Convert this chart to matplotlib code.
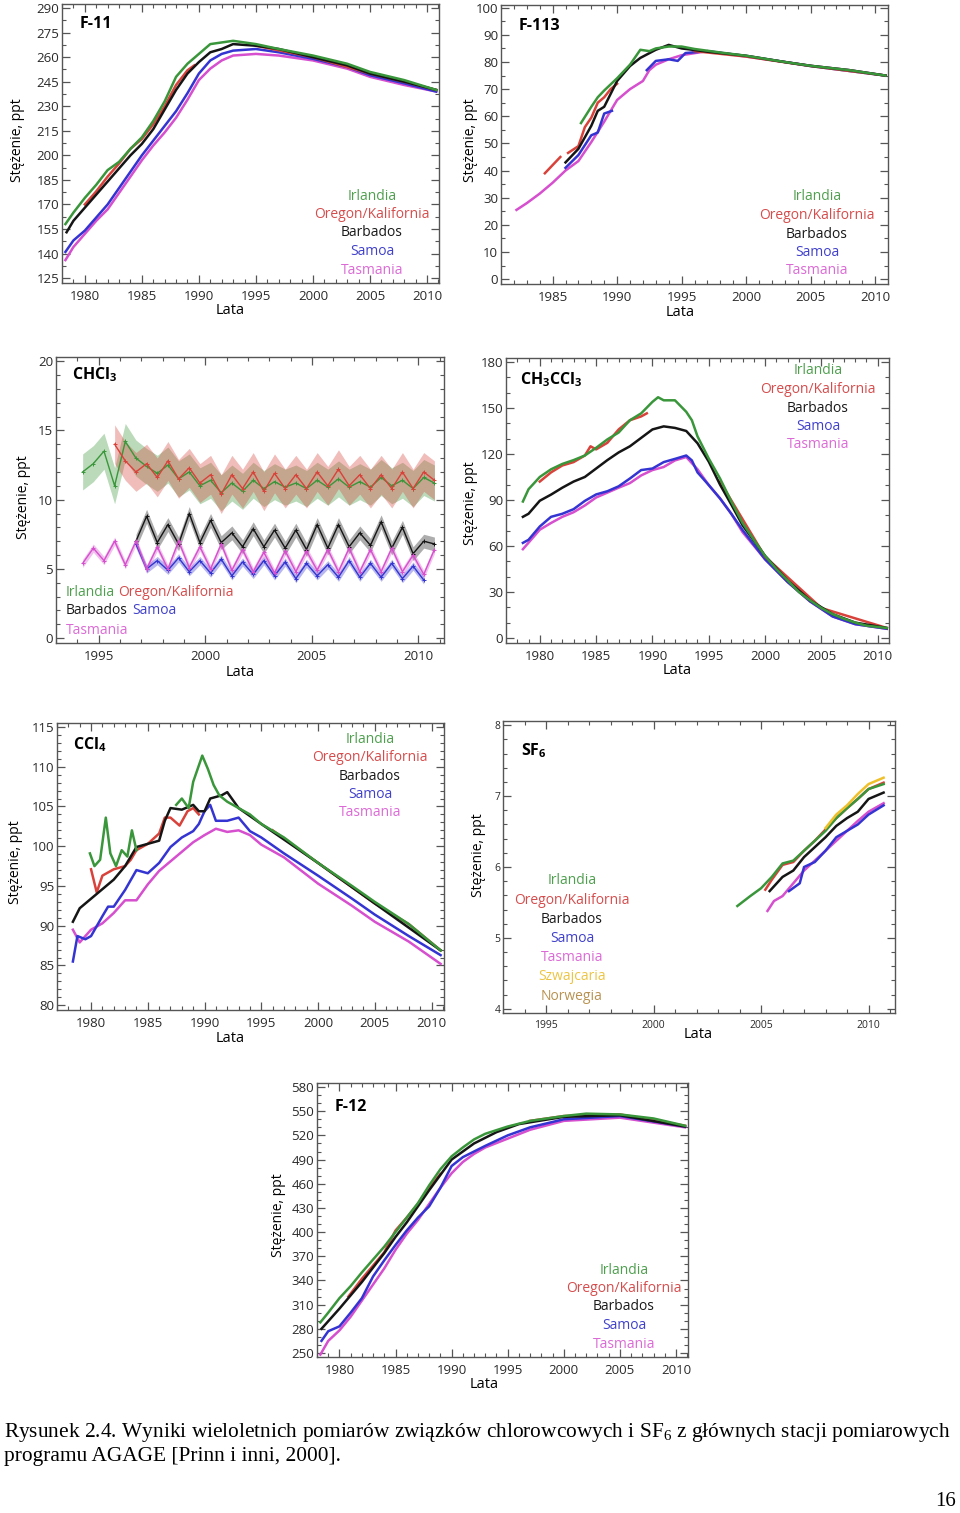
import numpy as np
import matplotlib
matplotlib.use("Agg")
import matplotlib.pyplot as plt

plt.rcParams['font.family'] = ['Open Sans', 'DejaVu Sans']
plt.rcParams['mathtext.default'] = 'regular'

nan = np.nan

# colours of the AGAGE stations
IRL, ORE, BAR, SAM, TAS, SZW, NOR = '#3a963a', '#d8423a', '#151515', '#3434d2', '#d64fce', '#efc02a', '#b8924a'
LEG = {'Irlandia': '#4f9f4f', 'Oregon/Kalifornia': '#d64c4c', 'Barbados': '#1a1a1a',
       'Samoa': '#4040cc', 'Tasmania': '#dc6ad6', 'Szwajcaria': '#ecc444', 'Norwegia': '#b89250'}

# ---- F-11 ----
f11_irl_yr = [1978.3, 1979, 1980, 1981, 1982, 1983, 1984, 1985, 1986, 1987, 1988, 1989, 1990, 1991, 1992, 1993, 1995, 1997, 2000, 2003, 2005, 2008, 2010.8]
f11_irl = [158, 165, 174, 182, 191, 196, 204, 211, 221, 233, 248, 256, 262, 268, 269, 270, 268, 265, 261, 256, 251, 246, 240]
f11_ore_yr = [1980, 1981, 1982, 1983, 1984, 1985, 1986, 1987, 1988, 1989, 1989.6, nan, 1995, 2000, 2005, 2008, 2010.8]
f11_ore = [170, 178, 187, 195, 204, 210, 219, 230, 243, 252, 255, nan, 267, 260, 250, 245, 240]
f11_bar_yr = [1978.4, 1979, 1980, 1981, 1982, 1983, 1984, 1985, 1986, 1987, 1988, 1989, 1990, 1991, 1992, 1993, 1995, 1997, 2000, 2003, 2005, 2008, 2010.8]
f11_bar = [153, 160, 168, 176, 184, 192, 200, 207, 216, 228, 240, 250, 257, 263, 265, 268, 267, 265, 260, 255, 250, 245, 240]
f11_sam_yr = [1978.3, 1979, 1980, 1981, 1982, 1983, 1984, 1985, 1986, 1987, 1988, 1989, 1990, 1991, 1992, 1993, 1995, 1997, 2000, 2003, 2005, 2008, 2010.8]
f11_sam = [141, 148, 154, 162, 170, 180, 190, 200, 209, 218, 227, 238, 250, 258, 262, 264, 265, 263, 259, 254, 249, 244, 239]
f11_tas_yr = f11_sam_yr
f11_tas = [136, 144, 152, 160, 167, 177, 187, 197, 206, 214, 223, 234, 246, 253, 258, 261, 262, 261, 258, 253, 248, 243, 239]

# ---- F-113 ----
f113_irl_yr = [1987.2, 1988, 1988.5, 1989, 1990, 1991, 1991.8, 1992.5, 1993, 1994, 1995, 1996, 1998, 2000, 2003, 2005, 2008, 2010.8]
f113_irl = [57.5, 63.5, 67, 69.5, 74, 79, 84.5, 84, 85, 85.7, 85.7, 84.8, 83.5, 82.3, 80, 78.6, 77, 75]
f113_ore_yr = [1984.4, 1985, 1985.6, nan, 1986.2, 1987, 1987.5, 1988, 1988.5, 1989, 1989.5, 1990, nan, 1996, 2000, 2005, 2010.8]
f113_ore = [39, 42, 45, nan, 46.5, 49, 56, 59.5, 65, 67, 70, 72, nan, 84, 82, 78.5, 75]
f113_bar_yr = [1986, 1987, 1988, 1988.5, 1989, 1990, 1991, 1991.8, 1993, 1994, 1995, 1997, 2000, 2003, 2005, 2008, 2010.8]
f113_bar = [43, 48, 56.5, 62, 63.5, 73, 78.5, 81.5, 84.5, 86.3, 85, 83.8, 82.3, 80, 78.6, 77, 75]
f113_sam_yr = [1986, 1987, 1988, 1988.5, 1989, 1989.6, nan, 1992.3, 1993, 1994, 1994.7, 1995.3, 1997, 2000, 2005, 2010.8]
f113_sam = [41, 45.7, 53, 54, 61, 62, nan, 77, 80.4, 81, 80.4, 83.3, 84, 82.2, 78.5, 75]
f113_tas_yr = [1982.2, 1983, 1984, 1985, 1986, 1987, 1988, 1989, 1990, 1991, 1992, 1992.5, 1993, 1994, 1995, 1997, 2000, 2003, 2005, 2008, 2010.8]
f113_tas = [25.5, 28, 31.5, 35.5, 40, 43.5, 50.5, 58, 66, 70, 73, 77, 79, 81, 82.5, 84, 82, 80, 78.6, 77, 75]

# ---- CHCl3 (half-yearly, winter / summer) ----
chcl3_irl_yr = np.arange(1994.25, 2010.8, 0.5)
chcl3_irl = [12.0, 12.6, 13.5, 11.0, 14.2, 13.0, 12.4, 11.9, 12.5, 11.5, 12.0, 11.0, 11.4, 10.5, 11.2, 10.6, 11.4,
             10.8, 11.3, 10.9, 11.2, 10.8, 11.4, 10.9, 11.5, 10.9, 11.3, 10.9, 11.6, 11.0, 11.4, 10.8, 11.6, 11.2]
chcl3_ore_yr = np.arange(1995.75, 2010.8, 0.5)
chcl3_ore = [14.0, 12.8, 12.0, 12.6, 11.6, 12.8, 11.5, 12.3, 11.2, 11.8, 10.4, 11.8, 10.8, 12.0, 10.6, 11.9,
             10.8, 11.8, 10.8, 12.0, 11.0, 12.2, 11.0, 11.8, 10.8, 11.8, 10.8, 12.0, 10.8, 12.0, 11.4]
chcl3_bar_yr = np.arange(1996.75, 2010.8, 0.5)
chcl3_bar = [7.0, 8.8, 6.9, 8.2, 6.8, 9.0, 6.9, 8.5, 6.9, 7.6, 6.6, 7.9, 6.6, 7.8, 6.5, 7.8, 6.4, 8.2, 6.5,
             8.2, 6.6, 7.6, 6.7, 8.4, 6.5, 8.0, 6.1, 7.0, 6.8]
chcl3_sam_yr = np.arange(1996.75, 2010.3, 0.5)
chcl3_sam = [6.8, 5.0, 5.6, 4.9, 5.8, 4.8, 5.6, 4.7, 5.7, 4.5, 5.5, 4.6, 5.6, 4.5, 5.5, 4.3, 5.4, 4.5, 5.3,
             4.4, 5.6, 4.4, 5.4, 4.4, 5.4, 4.3, 5.2, 4.2]
chcl3_tas_yr = np.arange(1994.25, 2010.8, 0.5)
chcl3_tas = [5.4, 6.5, 5.6, 7.0, 5.3, 7.0, 5.0, 6.6, 5.0, 7.0, 5.1, 6.6, 5.0, 6.8, 4.9, 6.4, 4.8, 6.2, 4.7,
             6.3, 4.8, 6.3, 4.9, 6.4, 4.8, 6.5, 4.8, 6.4, 4.8, 6.5, 4.8, 6.0, 4.6, 6.4]
chcl3_spread = {'irl': 1.3, 'ore': 1.4, 'bar': 0.5, 'sam': 0.3, 'tas': 0.3}

# ---- CH3CCl3 ----
ch3_irl_yr = [1978.5, 1979, 1980, 1981, 1982, 1983, 1984, 1985, 1986, 1987, 1988, 1989, 1990, 1990.5, 1991, 1992, 1993, 1993.5,
              1994, 1995, 1996, 1997, 1998, 1999, 2000, 2001, 2002, 2003, 2004, 2005, 2006, 2007, 2008, 2009, 2010.8]
ch3_irl = [89, 97, 105, 110, 113.5, 116, 119, 124, 129.5, 134, 142, 146.5, 154, 157, 155, 155, 147.5, 142,
           131.5, 117, 104, 89, 75, 64, 53.5, 45, 37.5, 30, 24.5, 19.5, 15.5, 12.5, 10, 8, 6.5]
ch3_ore_yr = [1980, 1981, 1982, 1983, 1984, 1984.5, 1985, 1986, 1987, 1988, 1989, 1989.5, nan, 1996, 2000, 2005, 2010.8]
ch3_ore = [102, 108, 112.5, 114.7, 119, 125, 123, 127.3, 136, 142, 144.5, 146.5, nan, 102, 53, 19.5, 6.5]
ch3_bar_yr = [1978.5, 1979, 1980, 1981, 1982, 1983, 1984, 1985, 1986, 1987, 1988, 1989, 1990, 1991, 1992, 1993, 1994,
              1995, 1996, 1997, 1998, 2000, 2002, 2004, 2006, 2008, 2010.8]
ch3_bar = [79, 81, 89.5, 93.5, 98, 102, 105, 110.5, 116, 121, 125, 130.5, 136, 138, 137, 135, 127,
           115, 100, 87, 73.5, 53.5, 37.5, 24.5, 15.5, 10, 6.5]
ch3_sam_yr = [1978.5, 1979, 1980, 1981, 1982, 1983, 1984, 1985, 1986, 1987, 1988, 1989, 1990, 1991, 1992, 1993, 1993.5,
              1994, 1995, 1996, 1997, 1998, 2000, 2002, 2004, 2006, 2008, 2010.8]
ch3_sam = [62, 64, 72.7, 79, 81, 84, 89.4, 93.6, 95.7, 98.9, 104, 109.5, 110.5, 114.7, 116.8, 119, 115.8,
           108, 99.7, 91, 81, 70.4, 51.3, 36.5, 23.8, 14, 9, 6]
ch3_tas_yr = [1978.5, 1980, 1981, 1982, 1983, 1984, 1985, 1986, 1987, 1988, 1989, 1990, 1991, 1992, 1993, 1994,
              1995, 1996, 1997, 1998, 2000, 2002, 2004, 2006, 2008, 2010.8]
ch3_tas = [57.9, 70.6, 75, 79, 82, 86.4, 91.6, 94.8, 98, 101, 106, 109.5, 111.5, 115.8, 118, 110,
           99.7, 91, 81, 69, 51.3, 36.5, 23.8, 14, 9, 6]

# ---- CCl4 ----
ccl4_irl_yr = [1979.9, 1980.3, 1980.8, 1981.3, 1981.7, 1982.2, 1982.7, 1983.2, 1983.6, 1984.0, nan, 1987.5, 1988, 1988.6,
               1989, 1989.8, 1990.3, 1990.8, 1991.3, 1992, 1993, 1994, 1995, 1997, 2000, 2003, 2005, 2008, 2010.8]
ccl4_irl = [99.1, 97.5, 98.3, 103.6, 99.1, 97.5, 99.5, 98.7, 102, 99.5, nan, 105.2, 106, 104.8,
            108.1, 111.4, 109.7, 107.7, 106.4, 105.6, 104.8, 104, 102.8, 101.1, 97.9, 95, 93, 90.2, 86.9]
ccl4_ore_yr = [1980, 1980.5, 1981, 1982, 1983, 1983.5, 1984, 1985, 1986, 1986.5, 1987, 1987.8, 1988.5, 1989, 1989.5,
               nan, 1996, 2000, 2005, 2008, 2010.8]
ccl4_ore = [97.1, 94.2, 96.3, 97.1, 97.5, 98.3, 99.5, 100.3, 101.6, 103.6, 103.6, 102.6, 104.4, 104.8, 104,
            nan, 102, 97.9, 92.8, 90.2, 86.9]
ccl4_bar_yr = [1978.4, 1979, 1980, 1981, 1982, 1983, 1984, 1985, 1986, 1986.5, 1987, 1988, 1989, 1989.5, 1990, 1990.5,
               1991.5, 1992, 1993, 1995, 2000, 2005, 2010.8]
ccl4_bar = [90.5, 92.2, 93.4, 94.6, 95.8, 97.5, 99.9, 100.3, 100.7, 103.2, 104.8, 104.6, 105.2, 104.4, 104.4, 106,
            106.4, 106.8, 104.8, 102.8, 97.9, 92.8, 86.9]
ccl4_sam_yr = [1978.4, 1978.8, 1979.5, 1980, 1981, 1981.5, 1982, 1983, 1984, 1985, 1986, 1987, 1988, 1989, 1989.5, 1990,
               1990.5, 1991, 1992, 1993, 1994, 1995, 1997, 2000, 2003, 2005, 2008, 2010.8]
ccl4_sam = [85.5, 88.7, 88.3, 88.7, 91.2, 92.4, 92.4, 94.5, 97, 96.6, 97.9, 99.9, 101.1, 101.9, 102.8, 104.4,
            105.2, 103.2, 103.2, 103.6, 101.9, 101.1, 99.1, 96.3, 93.4, 91.4, 88.7, 86.3]
ccl4_tas_yr = [1978.4, 1979, 1980, 1981, 1982, 1983, 1984, 1985, 1986, 1987, 1988, 1989, 1990, 1991, 1992, 1993, 1994,
               1995, 1997, 2000, 2003, 2005, 2008, 2010.8]
ccl4_tas = [89.5, 87.9, 89.5, 90.3, 91.6, 93.2, 93.2, 95.2, 96.9, 98.1, 99.3, 100.5, 101.4, 102.2, 101.8, 102, 101.4,
            100.2, 98.6, 95.3, 92.5, 90.5, 88, 85.2]

# ---- SF6 ----
sf6_irl_yr = [2003.9, 2004.5, 2005, 2005.5, 2006, 2006.5, 2007, 2007.5, 2008, 2008.5, 2009, 2009.5, 2010, 2010.7]
sf6_irl = [5.45, 5.59, 5.7, 5.86, 6.05, 6.09, 6.23, 6.37, 6.51, 6.69, 6.83, 6.96, 7.1, 7.17]
sf6_ore_yr = [2005.2, 2005.5, 2006, 2006.5, 2007, 2007.5, 2008, 2008.5, 2009, 2009.5, 2010, 2010.7]
sf6_ore = [5.68, 5.82, 6.03, 6.07, 6.23, 6.37, 6.53, 6.69, 6.83, 6.96, 7.1, 7.19]
sf6_bar_yr = [2005.4, 2006, 2006.5, 2007, 2007.5, 2008, 2008.5, 2009, 2009.5, 2010, 2010.7]
sf6_bar = [5.66, 5.86, 5.95, 6.14, 6.28, 6.42, 6.58, 6.69, 6.78, 6.96, 7.05]
sf6_sam_yr = [2006.3, 2006.8, 2007, 2007.5, 2008, 2008.5, 2009, 2009.5, 2010, 2010.7]
sf6_sam = [5.66, 5.77, 6.0, 6.07, 6.23, 6.42, 6.51, 6.6, 6.74, 6.87]
sf6_tas_yr = [2005.3, 2005.6, 2006, 2006.5, 2007, 2007.5, 2008, 2008.5, 2009, 2009.5, 2010, 2010.7]
sf6_tas = [5.38, 5.52, 5.59, 5.77, 5.95, 6.09, 6.23, 6.37, 6.51, 6.65, 6.78, 6.9]
sf6_szw_yr = [2008.0, 2008.5, 2009, 2009.5, 2010, 2010.7]
sf6_szw = [6.55, 6.74, 6.87, 7.03, 7.17, 7.26]

# ---- F-12 ----
f12_irl_yr = [1978.3, 1979, 1980, 1981, 1982, 1983, 1984, 1985, 1986, 1987, 1988, 1989, 1990, 1991, 1992, 1993, 1995,
              1997, 2000, 2002, 2005, 2008, 2010.8]
f12_irl = [288, 300, 318, 333, 350, 366, 382, 400, 418, 436, 458, 478, 494, 505, 515, 522, 531, 538, 544, 547, 546, 541, 532]
f12_ore_yr = [1980.8, 1982, 1984, 1985, 1986, 1987, 1988, 1989, nan, 1997, 2000, 2005, 2010.8]
f12_ore = [320, 342, 375, 402, 418, 435, 455, 472, nan, 538, 544, 546, 532]
f12_bar_yr = [1978.4, 1980, 1982, 1984, 1985, 1986, 1988, 1990, 1992, 1994, 1996, 2000, 2005, 2010.8]
f12_bar = [280, 305, 338, 374, 394, 412, 452, 490, 510, 524, 534, 543, 545, 531]
f12_sam_yr = [1978.4, 1979, 1980, 1981, 1982, 1983, 1984, 1985, 1986, 1987, 1988, 1989, 1990, 1991, 1992, 1993, 1995,
              1997, 2000, 2005, 2010.8]
f12_sam = [265, 277, 283, 300, 318, 345, 365, 384, 402, 418, 432, 455, 482, 493, 500, 507, 520, 530, 540, 544, 531]
f12_tas_yr = [1978.3, 1979, 1980, 1981, 1982, 1983, 1984, 1985, 1986, 1987, 1988, 1989, 1990, 1991, 1992, 1993, 1995,
              1997, 2000, 2005, 2010.8]
f12_tas = [248, 265, 278, 295, 315, 335, 355, 378, 398, 415, 435, 455, 473, 487, 497, 505, 516, 527, 538, 542, 530]

STATIONS5 = ['Irlandia', 'Oregon/Kalifornia', 'Barbados', 'Samoa', 'Tasmania']

W, H = 960, 1513
fig = plt.figure(figsize=(9.6, 15.13), dpi=100)


def ftext(x, y, s, **kw):
    kw.setdefault('va', 'center')
    return fig.text(x / W, 1 - y / H, s, **kw)


def make_axes(box, xlim, ylim, xt, yt, ymin, lsize=9.5):
    l, t, r, b = box
    ax = fig.add_axes([l / W, 1 - b / H, (r - l) / W, (b - t) / H])
    ax.set_xlim(xlim)
    ax.set_ylim(ylim)
    ax.set_xticks(xt)
    ax.set_xticks(np.arange(int(xlim[0]), xlim[1], 1), minor=True)
    ax.set_yticks(yt)
    ax.set_yticks(ymin, minor=True)
    ax.tick_params(which='both', direction='in', top=True, right=True, color='#555555',
                   labelsize=lsize, labelcolor='#2a2a2a')
    ax.tick_params(which='major', length=6, width=0.9)
    ax.tick_params(which='minor', length=3, width=0.8)
    ax.tick_params(axis='x', pad=5)
    ax.tick_params(axis='y', pad=2)
    for s in ax.spines.values():
        s.set_color('#555555')
        s.set_linewidth(1.0)
    return ax


def plot5(ax, series):
    # Tasmania, Samoa, Oregon, Barbados, Irlandia drawing order
    for (yr, v), c in zip(series, [TAS, SAM, ORE, BAR, IRL]):
        ax.plot(yr, v, color=c, lw=1.8, solid_joinstyle='round')


def legend_col(x, y0, names, dy=18.5, size=10):
    for i, n in enumerate(names):
        ftext(x, y0 + i * dy, n, color=LEG[n], ha='center', fontsize=size)


def labels(yl, xl):
    ftext(*yl, 'Stężenie, ppt', rotation=90, ha='center', fontsize=10)
    ftext(*xl, 'Lata', ha='center', fontsize=10.5)


# F-11
ax = make_axes((62, 4, 439, 283), (1978, 2011.05), (122, 292.5), np.arange(1980, 2011, 5),
               np.arange(125, 291, 15), np.arange(125, 291, 7.5))
plot5(ax, [(f11_tas_yr, f11_tas), (f11_sam_yr, f11_sam), (f11_ore_yr, f11_ore), (f11_bar_yr, f11_bar), (f11_irl_yr, f11_irl)])
ftext(80, 24, 'F-11', fontweight='bold', fontsize=11.5)
legend_col(372, 196, STATIONS5)
labels((18, 140), (230, 311))

# F-113
ax = make_axes((501, 5, 888, 284), (1981.8, 2011), (-1.8, 101), np.arange(1985, 2011, 5),
               np.arange(0, 101, 10), np.arange(0, 101, 5))
plot5(ax, [(f113_tas_yr, f113_tas), (f113_sam_yr, f113_sam), (f113_ore_yr, f113_ore), (f113_bar_yr, f113_bar), (f113_irl_yr, f113_irl)])
ftext(519, 26, 'F-113', fontweight='bold', fontsize=11.5)
legend_col(817, 197, STATIONS5)
labels((470, 140), (680, 312))

# CHCl3
ax = make_axes((56, 357, 444, 643), (1993, 2011.2), (-0.35, 20.3), np.arange(1995, 2011, 5),
               np.arange(0, 21, 5), np.arange(0, 21, 1))
for yr, v, key, c in [(chcl3_irl_yr, chcl3_irl, 'irl', IRL), (chcl3_ore_yr, chcl3_ore, 'ore', ORE),
                      (chcl3_bar_yr, chcl3_bar, 'bar', BAR), (chcl3_sam_yr, chcl3_sam, 'sam', SAM),
                      (chcl3_tas_yr, chcl3_tas, 'tas', TAS)]:
    v = np.asarray(v)
    ax.fill_between(yr, v - chcl3_spread[key], v + chcl3_spread[key], color=c, alpha=0.35, lw=0)
    ax.plot(yr, v, color=c, lw=1.0, marker='+', ms=3, mew=0.7)
ftext(72, 375, 'CHCl$_3$', fontweight='bold', fontsize=11.5)
ftext(66, 592, 'Irlandia', color=LEG['Irlandia'], fontsize=10)
ftext(118, 592, 'Oregon/Kalifornia', color=LEG['Oregon/Kalifornia'], fontsize=10)
ftext(66, 611, 'Barbados', color=LEG['Barbados'], fontsize=10)
ftext(132, 611, 'Samoa', color=LEG['Samoa'], fontsize=10)
ftext(66, 630, 'Tasmania', color=LEG['Tasmania'], fontsize=10)
labels((24, 497), (240, 672))

# CH3CCl3
ax = make_axes((506, 358, 889, 643), (1977.9, 2011.0), (-3.3, 182.6), np.arange(1980, 2011, 5),
               np.arange(0, 181, 30), np.arange(0, 181, 10))
plot5(ax, [(ch3_tas_yr, ch3_tas), (ch3_sam_yr, ch3_sam), (ch3_ore_yr, ch3_ore), (ch3_bar_yr, ch3_bar), (ch3_irl_yr, ch3_irl)])
ftext(520, 380, 'CH$_3$CCl$_3$', fontweight='bold', fontsize=11.5)
legend_col(818, 371, STATIONS5)
labels((470, 503), (677, 670))

# CCl4
ax = make_axes((57, 723, 444, 1010), (1977.9, 2011.1), (79.4, 115.5), np.arange(1980, 2011, 5),
               np.arange(80, 116, 5), np.arange(80, 116, 1))
plot5(ax, [(ccl4_tas_yr, ccl4_tas), (ccl4_sam_yr, ccl4_sam), (ccl4_ore_yr, ccl4_ore), (ccl4_bar_yr, ccl4_bar), (ccl4_irl_yr, ccl4_irl)])
ftext(73, 745, 'CCl$_4$', fontweight='bold', fontsize=11.5)
legend_col(370, 739, STATIONS5)
labels((16, 862), (230, 1038))

# SF6
ax = make_axes((503, 721, 895, 1013), (1993.94, 2011.23), (3.94, 8.06), np.arange(1995, 2011, 5),
               np.arange(4, 8.1, 1), np.arange(4, 8.1, 0.2), lsize=7.5)
plot5(ax, [(sf6_tas_yr, sf6_tas), (sf6_sam_yr, sf6_sam), (sf6_ore_yr, sf6_ore), (sf6_bar_yr, sf6_bar), (sf6_irl_yr, sf6_irl)])
ax.plot(sf6_szw_yr, sf6_szw, color=SZW, lw=1.8)
ftext(521, 751, 'SF$_6$', fontweight='bold', fontsize=11.5)
legend_col(572, 881, STATIONS5 + ['Szwajcaria', 'Norwegia'], dy=19.2)
labels((479, 855), (698, 1034))

# F-12
ax = make_axes((317, 1083, 688, 1357), (1978.04, 2011.07), (245, 585), np.arange(1980, 2011, 5),
               np.arange(250, 581, 30), np.arange(250, 581, 10))
plot5(ax, [(f12_tas_yr, f12_tas), (f12_sam_yr, f12_sam), (f12_ore_yr, f12_ore), (f12_bar_yr, f12_bar), (f12_irl_yr, f12_irl)])
ftext(335, 1107, 'F-12', fontweight='bold', fontsize=11.5)
legend_col(624, 1270, STATIONS5)
labels((278, 1215), (484, 1384))

# caption
serif = ['Liberation Serif', 'DejaVu Serif']
cap1 = ftext(4, 1432, 'Rysunek 2.4. Wyniki wieloletnich pomiarów związków chlorowcowych i SF$_6$ z głównych stacji pomiarowych',
             family=serif, fontsize=14, ha='left')
r = fig.canvas.get_renderer()
wpx = cap1.get_window_extent(r).width
cap1.set_fontsize(14 * 952 / wpx)
ftext(4, 1457, 'programu AGAGE [Prinn i inni, 2000].', family=serif, fontsize=cap1.get_fontsize(), ha='left')
ftext(956, 1502, '16', family=serif, fontsize=15, ha='right')

fig.savefig('out.png', dpi=100)
